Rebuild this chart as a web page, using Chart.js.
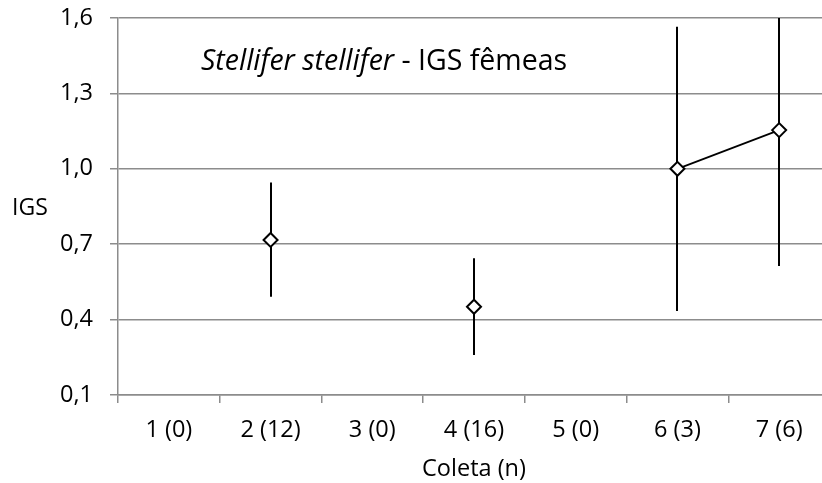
<!DOCTYPE html>
<html>
<head>
<meta charset="utf-8">
<script src="https://cdn.jsdelivr.net/npm/chart.js@4/dist/chart.umd.min.js"></script>
<style>
  html, body { margin: 0; padding: 0; background: #fff; overflow: hidden; }
  #wrap { width: 822px; height: 483px; overflow: hidden; position: relative; }
  #box { width: 840px; height: 483px; position: absolute; left: 0; top: 0; }
</style>
</head>
<body>
<div id="wrap"><div id="box"><canvas id="chart"></canvas></div></div>
<script>
// ================= DATA =================
const coletas = ["1 (0)", "2 (12)", "3 (0)", "4 (16)", "5 (0)", "6 (3)", "7 (6)"];
const igsMedia = [null, 0.717, null, 0.451, null, 1.0, 1.154];
const igsMin   = [null, 0.491, null, 0.259, null, 0.434, 0.613];
const igsMax   = [null, 0.945, null, 0.644, null, 1.565, 1.70];
const yTicks   = [0.1, 0.4, 0.7, 1.0, 1.3, 1.6];

const FONT = "'Open Sans', 'DejaVu Sans', sans-serif";
const GRID = "#8c8c8c";

// ================= PLUGINS =================
const errorBars = {
    id: "errorBars",
    beforeDatasetsDraw(chart){
        const {ctx, chartArea, scales:{x, y}} = chart;
        ctx.save();
        ctx.beginPath();
        ctx.rect(chartArea.left, chartArea.top, chartArea.right - chartArea.left, chartArea.bottom - chartArea.top);
        ctx.clip();
        ctx.strokeStyle = "#000";
        ctx.lineWidth = 2;
        igsMin.forEach((lo, i) => {
            if(lo === null) return;
            const px = Math.round(x.getPixelForValue(i));
            ctx.beginPath();
            ctx.moveTo(px, y.getPixelForValue(lo));
            ctx.lineTo(px, y.getPixelForValue(igsMax[i]));
            ctx.stroke();
        });
        ctx.restore();
    }
};

const textos = {
    id: "textos",
    afterDraw(chart){
        const {ctx} = chart;
        ctx.save();
        ctx.fillStyle = "#000";
        ctx.textBaseline = "alphabetic";
        // titulo dentro do grafico
        let tx = 201;
        const ty = 70;
        ctx.font = "italic 28.5px " + FONT;
        const a = "Stellifer stellifer";
        ctx.fillText(a, tx, ty);
        tx += ctx.measureText(a).width;
        ctx.font = "28.5px " + FONT;
        ctx.fillText(" - IGS fêmeas", tx, ty);
        // rotulo do eixo y (horizontal)
        ctx.font = "23px " + FONT;
        ctx.textBaseline = "middle";
        ctx.fillText("IGS", 12, 208);
        ctx.restore();
    }
};

// ================= CHART =================
const ctx = document.getElementById("chart").getContext("2d");

new Chart(ctx, {
    type: "line",
    data: {
        labels: coletas,
        datasets: [{
            label: "IGS",
            data: igsMedia,
            borderColor: "#000",
            borderWidth: 1.8,
            backgroundColor: "#fff",
            pointStyle: "rectRot",
            pointRadius: 7,
            pointBorderWidth: 2,
            pointBorderColor: "#000",
            pointBackgroundColor: "#fff",
            spanGaps: false,
            tension: 0
        }]
    },
    options: {
        responsive: true,
        maintainAspectRatio: false,
        animation: false,
        layout: { padding: { top: 18, right: 10, left: 0, bottom: 0 } },
        plugins: {
            legend: { display: false },
            tooltip: { enabled: false }
        },
        scales: {
            x: {
                offset: true,
                grid: {
                    offset: true,
                    drawOnChartArea: false,
                    drawTicks: true,
                    tickLength: 8,
                    color: GRID,
                    lineWidth: 1.5
                },
                border: { color: GRID, width: 1.5 },
                ticks: {
                    color: "#000",
                    padding: 13,
                    maxRotation: 0,
                    font: { family: FONT, size: 23.5 }
                },
                title: {
                    display: true,
                    text: "Coleta (n)",
                    color: "#000",
                    padding: { top: 10, bottom: 0 },
                    font: { family: FONT, size: 23.5 }
                },
                afterFit(s){
                    s.height = 88;
                    s.paddingLeft = 0; s.paddingRight = 0;
                }
            },
            y: {
                min: 0.1,
                max: 1.6,
                afterBuildTicks(s){ s.ticks = yTicks.map(v => ({value: v})); },
                grid: {
                    color: GRID,
                    lineWidth: 1.5,
                    tickLength: 8
                },
                border: { color: GRID, width: 1.5 },
                ticks: {
                    color: "#000",
                    padding: 17,
                    font: { family: FONT, size: 23.5 },
                    callback: v => v.toFixed(1).replace(".", ",")
                },
                afterFit(s){
                    s.width = 118;
                    s.paddingTop = 0; s.paddingBottom = 0;
                }
            }
        }
    },
    plugins: [errorBars, textos]
});
</script>
</body>
</html>
